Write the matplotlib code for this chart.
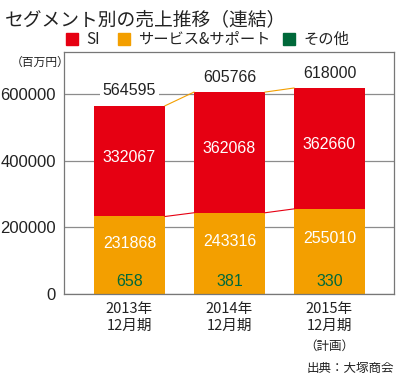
import matplotlib
matplotlib.use("Agg")
import matplotlib.pyplot as plt
import matplotlib.transforms as mtransforms
import numpy as np

plt.rcParams['font.family'] = ['Noto Sans CJK JP', 'DejaVu Sans']
NUMFONT = ['Liberation Sans', 'Noto Sans CJK JP']

categories = ["2013年\n12月期", "2014年\n12月期", "2015年\n12月期"]
category_notes = ["", "", "（計画）"]
other = [658, 381, 330]
service = [231868, 243316, 255010]
si = [332067, 362068, 362660]
totals = [564595, 605766, 618000]
series_names = ["SI", "サービス&サポート", "その他"]
yticks = [0, 200000, 400000, 600000]

RED = "#E60012"
ORANGE = "#F39F00"
GREEN = "#00693A"
TXT = "#222222"

fig = plt.figure(figsize=(4.0, 3.8), dpi=100)
ax = fig.add_axes([64/400, 1-294/380, (394-64)/400, (294-52)/380])

x = np.arange(len(categories))
w = 0.71
bottom_o = np.array(other)
bottom_si = bottom_o + np.array(service)
ax.bar(x, other, w, color=GREEN, zorder=2)
ax.bar(x, service, w, bottom=bottom_o, color=ORANGE, zorder=2)
ax.bar(x, si, w, bottom=bottom_si, color=RED, zorder=2)

# connecting lines
tops = bottom_si + np.array(si)
for i in range(len(x) - 1):
    ax.plot([x[i] + w/2, x[i+1] - w/2], [tops[i], tops[i+1]], color=ORANGE, lw=0.8, zorder=2)
    ax.plot([x[i] + w/2, x[i+1] - w/2], [bottom_si[i], bottom_si[i+1]], color=RED, lw=0.8, zorder=2)

NS = 11.5
for i in range(len(x)):
    ax.text(x[i], 39000, f"{other[i]}", color=GREEN, ha="center", va="center", fontsize=NS, family=NUMFONT, zorder=3)
    ax.text(x[i], bottom_o[i] + service[i]*0.65, f"{service[i]}", color="white", ha="center", va="center", fontsize=NS, family=NUMFONT, zorder=3)
    ax.text(x[i], bottom_si[i] + si[i]*0.53, f"{si[i]}", color="white", ha="center", va="center", fontsize=NS, family=NUMFONT, zorder=3)
    ax.text(x[i], tops[i] + 45000, f"{totals[i]}", color=TXT, ha="center", va="center", fontsize=NS, family=NUMFONT, zorder=3,
            bbox=dict(facecolor="white", edgecolor="none", pad=2))

ax.set_xlim(-0.655, 2.645)
ax.set_ylim(0, 726000)
ax.set_yticks(yticks)
ax.set_yticklabels([str(v) for v in yticks], fontsize=12, color=TXT, family=NUMFONT)
ax.set_xticks(x)
ax.set_xticklabels(categories, fontsize=10.5, color=TXT, linespacing=1.2)
ax.tick_params(length=0, pad=6)
ax.yaxis.grid(True, color="#8c8c8c", lw=0.9, zorder=0)
ax.set_axisbelow(True)
for s in ax.spines.values():
    s.set_color("#777777")
    s.set_linewidth(0.9)

trans = mtransforms.blended_transform_factory(ax.transData, fig.transFigure)
for i, note in enumerate(category_notes):
    if note:
        ax.text(x[i], 1-346/380, note, transform=trans, fontsize=9, color=TXT, ha="center", va="center")

fig.text(5/400, 1-20/380, "セグメント別の売上推移（連結）", fontsize=13.5, color=TXT, va="center", ha="left")
fig.text(11/400, 1-62/380, "（百万円）", fontsize=8.5, color=TXT, va="center", ha="left")
fig.text(394/400, 1-368/380, "出典：大塚商会", fontsize=9, color=TXT, va="center", ha="right")

# legend
leg_items = [(66, RED, series_names[0]), (118, ORANGE, series_names[1]), (283, GREEN, series_names[2])]
for px, c, name in leg_items:
    fig.patches.append(plt.Rectangle((px/400, 1-45/380), 12/400, 12/380, transform=fig.transFigure, color=c, figure=fig))
    fig.text((px+20)/400, 1-39/380, name, fontsize=11, color=TXT, va="center", ha="left")

fig.savefig("out.png", dpi=100)
